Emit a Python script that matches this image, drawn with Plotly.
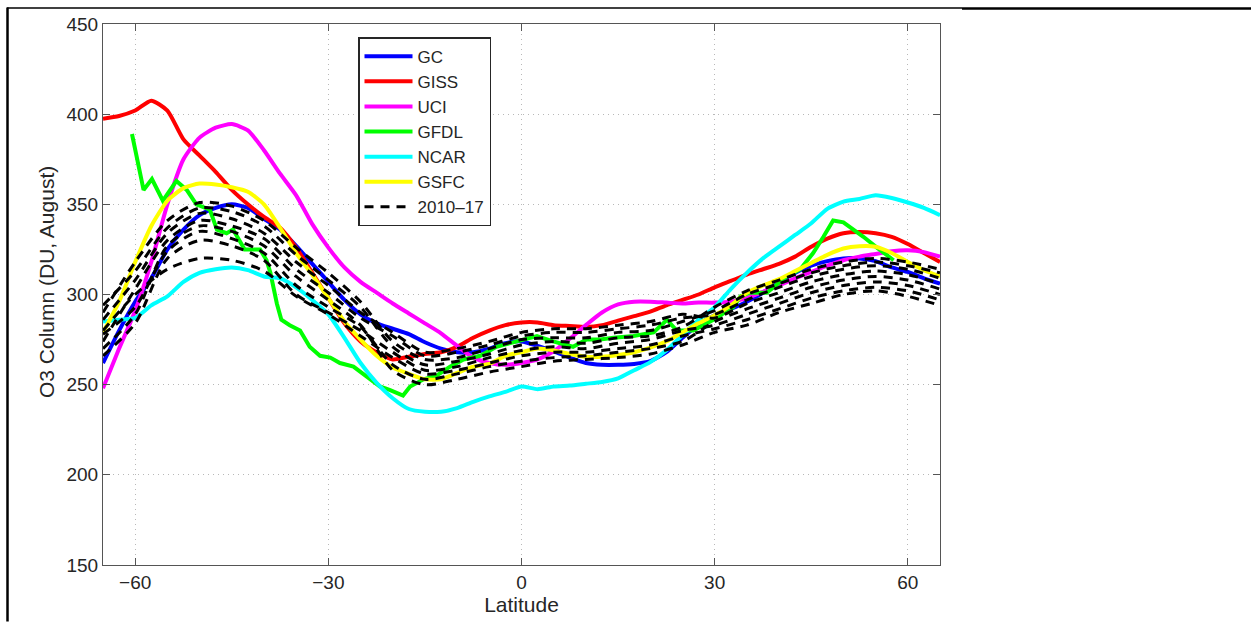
import plotly.graph_objects as go

# ---------------------------------------------------------------------------
# Zonal-mean August O3 column (DU) versus latitude
# ---------------------------------------------------------------------------
LAT = [-65, -62.5, -60, -57.5, -55, -52.5, -50, -47.5, -45, -42.5, -40, -37.5,
       -35, -32.5, -30, -27.5, -25, -22.5, -20, -17.5, -15, -12.5, -10, -7.5,
       -5, -2.5, 0, 2.5, 5, 7.5, 10, 12.5, 15, 17.5, 20, 22.5, 25, 27.5, 30,
       32.5, 35, 37.5, 40, 42.5, 45, 47.5, 50, 52.5, 55, 57.5, 60, 62.5, 65]

GC = [262, 280, 296, 309, 325, 336, 344, 348, 350, 348, 342, 336,
      327, 317, 307, 297, 289, 284, 281, 278, 273.5, 270, 268, 268,
      270, 273, 274, 271.5, 268.5, 265, 262, 261, 261, 261.5, 263, 268, 276, 283.5, 288.5,
      292, 296, 301, 307, 312, 316, 318.5, 320, 320, 318.5, 315, 312.5, 309, 306]

GISS = [397.5, 399, 402, 407.5, 402, 386, 377, 368, 358, 350, 343, 337,
        326, 312, 298, 284, 274, 268, 264, 265.5, 267, 268, 271, 276,
        280, 283, 284.5, 284.5, 283, 282.5, 282, 283, 285.5, 288, 290.5, 294, 297, 300, 304,
        307.5, 311, 314, 317, 321, 326.5, 331, 334, 334.7, 334, 332, 328, 323, 318]

UCI = [248, 270, 291, 318, 350, 375, 387, 392.5, 394.5, 391, 380, 367,
       355, 339, 326, 315, 307, 301, 295, 289.5, 284, 278.5, 271.5, 265,
       262, 261, 262, 264, 268.5, 275.5, 283, 290, 294.5, 296, 296, 295.5, 295, 295.5, 295.5,
       296, 298, 301.5, 305, 309, 312.5, 316, 319, 321, 322.5, 324, 324.5, 323.5, 321]

NCAR = [285, 286, 287, 294, 299, 307, 312, 314, 315, 313.5, 310, 309,
        304, 297, 289, 276, 262, 251, 242.5, 236.5, 235, 235, 237, 240.5,
        243.5, 246, 249, 247.5, 249, 249.5, 250.5, 251.5, 253.5, 258, 262.5, 269, 277.5, 286, 293,
        303, 312, 320, 326.5, 333, 339.5, 347.5, 351.5, 353, 355, 353.5, 351, 348, 344]

GSFC = [279, 296, 318, 338, 352, 359, 361.5, 361, 359.5, 357, 350, 337,
        323, 311, 298, 285, 275, 266, 259.5, 256, 253, 253, 256.5, 260,
        261.5, 266, 268, 270, 269, 267, 265.5, 265.5, 266.5, 268, 270.5, 274, 279, 284, 288.5,
        294, 301, 305, 308.5, 313, 317.5, 322, 325.5, 326.8, 326.5, 323, 318, 313.5, 310]

# GFDL is sampled on its own (irregular) latitude points
GFDL_LAT = [-60.5, -58.7, -57.4, -55.7, -53.6, -52.0, -50.5, -48.4, -47.3, -45.8,
            -44.8, -43.0, -40.6, -39.6, -39.0, -38.0, -37.3, -36.0, -34.4, -32.9,
            -31.3, -29.7, -28.2, -26.1, -24.6, -22.0, -20.4, -18.4, -17.3, -15.2,
            -13.2, -11.1, -9.0, -6.4, -3.9, -1.8, 0.3, 2.4, 4.9, 8.0,
            10.1, 12.2, 14.3, 17.4, 20.5, 22.6, 24.1, 26.7, 29.8, 32.9,
            34.0, 35.5, 38.1, 41.2, 43.3, 45.3, 46.9, 48.4, 50.0, 51.6,
            53.1, 55.2, 57.8]
GFDL = [389, 358, 364, 352, 363, 358, 350, 347, 336, 334,
        336, 325, 325, 319, 312, 295, 286, 283, 280, 271,
        266, 265, 262, 260, 256, 249, 247, 244, 249, 253,
        255, 260, 264, 266, 271, 273, 275, 277, 274, 271,
        275, 275, 276, 277, 279, 286, 280, 280, 286, 293,
        299, 301, 301, 310, 314, 323, 332, 341, 340, 336,
        332, 326, 319]

# Observed years 2010-2017, 5-degree latitude grid
OBS_LAT = [-65, -60, -55, -50, -45, -40, -35, -30, -25, -20, -15, -10, -5, 0,
           5, 10, 15, 20, 25, 30, 35, 40, 45, 50, 55, 60, 65]
OBS = {
    "2010": [290, 318, 341, 351, 349, 341, 326, 312, 296, 274, 264, 265, 270, 275,
             276, 276, 279, 280, 285, 291, 300, 306, 312, 316, 318, 316, 312],
    "2011": [286, 308, 334, 345, 342, 334, 318, 305, 290, 279, 268, 270, 274, 279,
             281, 281, 283, 285, 289, 287, 295, 301, 307, 311, 313, 311, 306],
    "2012": [280, 300, 314, 320, 319, 313, 299, 289, 277, 265, 256, 258, 262, 266,
             268, 268, 270, 272, 277, 281, 286, 292, 298, 302, 304, 302, 297],
    "2013": [294, 313, 337, 348, 346, 338, 322, 308, 293, 271, 261, 263, 267, 272,
             274, 273, 276, 277, 282, 293, 302, 308, 314, 318, 320, 318, 314],
    "2014": [270, 289, 327, 338, 335, 327, 310, 297, 283, 258, 250, 253, 257, 260,
             263, 264, 265, 267, 272, 279, 283, 290, 295, 300, 302, 299, 294],
    "2015": [274, 303, 330, 341, 338, 331, 314, 301, 287, 277, 266, 268, 272, 277,
             279, 279, 281, 283, 287, 289, 297, 304, 310, 314, 316, 314, 309],
    "2016": [266, 284, 320, 330, 327, 319, 300, 290, 280, 268, 258, 260, 265, 269,
             271, 270, 273, 275, 280, 283, 289, 295, 301, 305, 307, 305, 300],
    "2017": [278, 293, 324, 335, 331, 323, 305, 293, 282, 261, 253, 256, 260, 263,
             265, 266, 268, 270, 274, 285, 292, 298, 304, 308, 310, 308, 303],
}

X_TICKS = [-60, -30, 0, 30, 60]
Y_TICKS = [150, 200, 250, 300, 350, 400, 450]

# ---------------------------------------------------------------------------
FONT = "Liberation Sans, Arial, Helvetica, sans-serif"
TEXT = "#262626"
W, H = 1251, 622
L, R, T, B = 103, 940, 23.5, 565.5   # plot-area edges in pixels


def px(xp):
    return (xp - L) / (R - L)


def py(yp):
    return 1 - (yp - T) / (B - T)


fig = go.Figure()

models = [
    ("GC", LAT, GC, "#0000ff"),
    ("GISS", LAT, GISS, "#ff0000"),
    ("UCI", LAT, UCI, "#ff00ff"),
    ("GFDL", GFDL_LAT, GFDL, "#00ff00"),
    ("NCAR", LAT, NCAR, "#00ffff"),
    ("GSFC", LAT, GSFC, "#ffff00"),
]
for name, xs, ys, col in models:
    fig.add_trace(go.Scatter(
        x=xs, y=ys, name=name, mode="lines",
        line=dict(color=col, width=4,
                  shape="linear" if name == "GFDL" else "spline",
                  smoothing=0.6),
    ))

for i, (year, vals) in enumerate(OBS.items()):
    fig.add_trace(go.Scatter(
        x=OBS_LAT, y=vals, name="2010\u201317", mode="lines",
        legendgroup="obs", showlegend=(i == 0),
        line=dict(color="black", width=3, dash="9px,7px",
                  shape="spline", smoothing=0.8),
    ))

axis_common = dict(
    showline=True, linecolor="#555555", linewidth=1, mirror="ticks",
    ticks="inside", ticklen=7, tickcolor="#555555", tickwidth=1,
    showgrid=True, gridcolor="#b8b8b8", gridwidth=1, griddash="1px,4px",
    zeroline=False,
    tickfont=dict(family=FONT, size=19, color=TEXT),
)

fig.update_xaxes(
    range=[-65, 65], tickvals=X_TICKS, **axis_common,
    title=dict(text="Latitude", font=dict(family=FONT, size=21, color=TEXT),
               standoff=2),
)
fig.update_yaxes(range=[150, 450], tickvals=Y_TICKS, **axis_common)

# outer frame lines around the figure panel
frame = [
    (px(7), py(7.5), px(962), py(7.5), 1.5),
    (px(962), py(8), px(1251), py(8), 2.5),
    (px(7.5), py(7), px(7.5), py(622), 2.5),
]
shapes = [dict(type="line", xref="paper", yref="paper", x0=a, y0=b, x1=c, y1=d,
               line=dict(color="black", width=w)) for a, b, c, d, w in frame]

fig.update_layout(
    width=W, height=H,
    margin=dict(l=L, r=W - R, t=T, b=H - B),
    paper_bgcolor="white", plot_bgcolor="white",
    showlegend=True,
    legend=dict(
        x=px(358), y=py(36.7), xanchor="left", yanchor="top",
        bgcolor="white", bordercolor=TEXT, borderwidth=1.5,
        font=dict(family=FONT, size=17, color=TEXT),
        tracegroupgap=0, itemwidth=48,
    ),
    shapes=shapes,
    annotations=[dict(
        text="O3 Column (DU, August)", textangle=-90,
        xref="paper", yref="paper", x=px(46), y=py(282),
        xanchor="center", yanchor="middle", showarrow=False,
        font=dict(family=FONT, size=21, color=TEXT),
    )],
)

fig.write_html("out.html")
